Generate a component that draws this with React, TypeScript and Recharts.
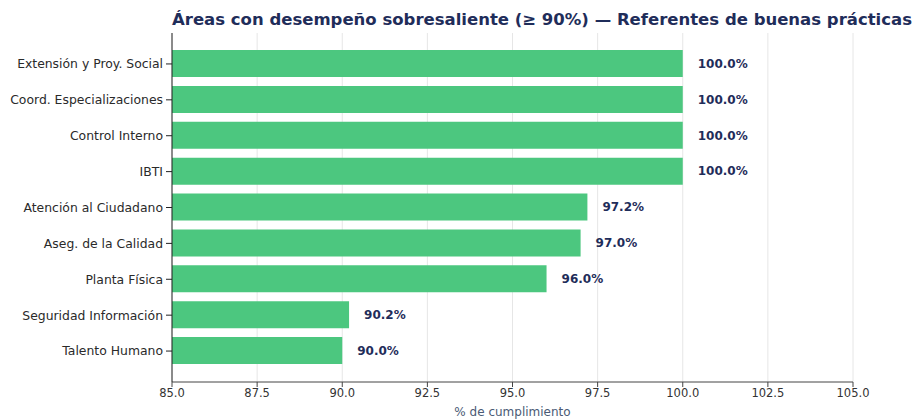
import { Bar, BarChart, CartesianGrid, LabelList, XAxis, YAxis } from 'recharts'

const FONT = '"DejaVu Sans", sans-serif'
const NAVY = '#1f2d5a'
const GREEN = '#4cc77f'

const areas = [
  'Extensión y Proy. Social',
  'Coord. Especializaciones',
  'Control Interno',
  'IBTI',
  'Atención al Ciudadano',
  'Aseg. de la Calidad',
  'Planta Física',
  'Seguridad Información',
  'Talento Humano',
]
const cumplimiento = [100, 100, 100, 100, 97.2, 97.0, 96.0, 90.2, 90.0]
const xTicks = [85, 87.5, 90, 92.5, 95, 97.5, 100, 102.5, 105]

const data = areas.map((area, i) => ({ area, value: cumplimiento[i] }))

export default function App() {
  return (
    <div style={{ position: 'absolute', left: 0, top: 0, width: 919, height: 420, background: '#fff', fontFamily: FONT }}>
      <div
        style={{
          position: 'absolute',
          left: 172,
          top: 10,
          fontSize: 16.5,
          fontWeight: 700,
          color: NAVY,
          whiteSpace: 'nowrap',
        }}
      >
        Áreas con desempeño sobresaliente (≥ 90%) — Referentes de buenas prácticas
      </div>
      <div style={{ position: 'absolute', left: 0, top: 0 }}>
        <BarChart
          width={919}
          height={420}
          data={data}
          layout="vertical"
          margin={{ top: 33, right: 66, bottom: 0, left: 0 }}
        >
          <CartesianGrid horizontal={false} stroke="#e6e6e6" />
          <XAxis
            type="number"
            domain={[85, 105]}
            ticks={xTicks}
            allowDataOverflow
            tickFormatter={(v: number) => v.toFixed(1)}
            stroke="#444"
            tick={{ fontSize: 11.5, fill: '#333', fontFamily: FONT }}
            tickSize={5}
            height={38}
            label={{ value: '% de cumplimiento', position: 'insideBottom', offset: 4, fill: '#4a5a75', fontSize: 12, fontFamily: FONT }}
          />
          <YAxis
            type="category"
            dataKey="area"
            width={172}
            stroke="#222"
            tick={{ fontSize: 12.4, fill: '#2a2a2a', fontFamily: FONT }}
            tickSize={6}
            tickMargin={3}
            padding={{ top: 13, bottom: 13 }}
          />
          <Bar dataKey="value" fill={GREEN} barSize={27} isAnimationActive={false}>
            <LabelList
              dataKey="value"
              position="right"
              offset={15}
              formatter={(v: number) => v.toFixed(1) + '%'}
              style={{ fill: NAVY, fontWeight: 700, fontSize: 12, fontFamily: FONT }}
            />
          </Bar>
        </BarChart>
      </div>
    </div>
  )
}
